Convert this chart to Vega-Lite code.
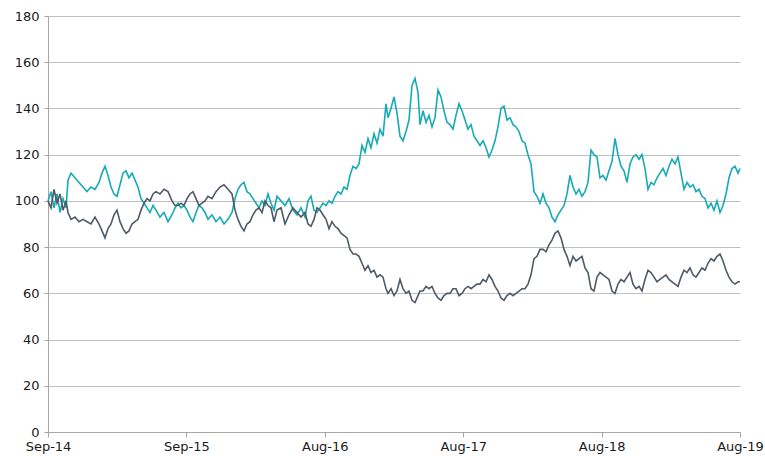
{
  "$schema": "https://vega.github.io/schema/vega-lite/v6.json",
  "width": 692,
  "height": 416,
  "autosize": "none",
  "padding": {"left": 48, "top": 16, "right": 25, "bottom": 24},
  "background": "white",
  "config": {"view": {"stroke": null}, "font": "DejaVu Sans"},
  "data": {"values": [
    {"t":0,"a":100,"b":100},{"t":3,"a":104,"b":97},{"t":6,"a":97,"b":105},{"t":9,"a":103,"b":99},{"t":12,"a":95,"b":103},{"t":15,"a":101,"b":96},{"t":18,"a":97,"b":100},{"t":20,"a":109,"b":95},{"t":23,"a":112,"b":92},{"t":27,"a":110,"b":93},{"t":31,"a":108,"b":91},{"t":35,"a":106,"b":92},{"t":39,"a":104,"b":91},{"t":43,"a":106,"b":90},{"t":47,"a":105,"b":93},{"t":51,"a":108,"b":90},{"t":54,"a":112,"b":87},{"t":57,"a":115,"b":84},{"t":60,"a":111,"b":88},{"t":63,"a":106,"b":90},{"t":66,"a":103,"b":94},{"t":69,"a":102,"b":96},{"t":72,"a":107,"b":91},{"t":75,"a":112,"b":88},{"t":78,"a":113,"b":86},{"t":81,"a":110,"b":87},{"t":84,"a":112,"b":90},{"t":87,"a":109,"b":91},{"t":90,"a":106,"b":92},{"t":93,"a":101,"b":96},{"t":96,"a":99,"b":99},{"t":99,"a":97,"b":101},{"t":102,"a":95,"b":100},{"t":105,"a":98,"b":103},{"t":108,"a":96,"b":104},{"t":112,"a":93,"b":103},{"t":116,"a":95,"b":105},{"t":120,"a":91,"b":104},{"t":124,"a":94,"b":100},{"t":127,"a":97,"b":98},{"t":130,"a":99,"b":98},{"t":133,"a":97,"b":99},{"t":136,"a":98,"b":98},{"t":139,"a":96,"b":101},{"t":142,"a":93,"b":103},{"t":145,"a":91,"b":104},{"t":148,"a":95,"b":101},{"t":151,"a":98,"b":98},{"t":154,"a":97,"b":99},{"t":157,"a":95,"b":100},{"t":160,"a":92,"b":102},{"t":164,"a":94,"b":101},{"t":168,"a":91,"b":104},{"t":172,"a":93,"b":106},{"t":176,"a":90,"b":107},{"t":180,"a":92,"b":105},{"t":184,"a":95,"b":103},{"t":187,"a":101,"b":96},{"t":190,"a":105,"b":92},{"t":193,"a":107,"b":89},{"t":196,"a":108,"b":87},{"t":199,"a":104,"b":90},{"t":202,"a":103,"b":91},{"t":205,"a":101,"b":94},{"t":208,"a":99,"b":96},{"t":211,"a":97,"b":97},{"t":214,"a":100,"b":95},{"t":217,"a":98,"b":100},{"t":220,"a":103,"b":98},{"t":223,"a":99,"b":97},{"t":226,"a":96,"b":91},{"t":229,"a":102,"b":96},{"t":233,"a":100,"b":97},{"t":237,"a":98,"b":90},{"t":241,"a":101,"b":94},{"t":245,"a":96,"b":97},{"t":249,"a":94,"b":95},{"t":253,"a":97,"b":93},{"t":257,"a":93,"b":95},{"t":260,"a":100,"b":90},{"t":263,"a":102,"b":89},{"t":266,"a":96,"b":92},{"t":269,"a":95,"b":97},{"t":272,"a":97,"b":96},{"t":275,"a":99,"b":94},{"t":278,"a":98,"b":92},{"t":281,"a":100,"b":88},{"t":284,"a":99,"b":91},{"t":287,"a":102,"b":89},{"t":290,"a":104,"b":88},{"t":293,"a":103,"b":86},{"t":296,"a":106,"b":85},{"t":299,"a":105,"b":84},{"t":302,"a":111,"b":79},{"t":305,"a":115,"b":77},{"t":308,"a":114,"b":77},{"t":311,"a":116,"b":76},{"t":314,"a":124,"b":73},{"t":317,"a":121,"b":70},{"t":320,"a":127,"b":72},{"t":323,"a":123,"b":69},{"t":326,"a":129,"b":70},{"t":329,"a":125,"b":67},{"t":332,"a":131,"b":68},{"t":335,"a":128,"b":67},{"t":338,"a":142,"b":62},{"t":340,"a":136,"b":60},{"t":343,"a":140,"b":62},{"t":346,"a":145,"b":59},{"t":349,"a":138,"b":61},{"t":352,"a":128,"b":66},{"t":355,"a":126,"b":62},{"t":358,"a":130,"b":60},{"t":361,"a":135,"b":61},{"t":364,"a":150,"b":57},{"t":367,"a":153,"b":56},{"t":370,"a":147,"b":59},{"t":372,"a":133,"b":61},{"t":375,"a":139,"b":61},{"t":378,"a":134,"b":63},{"t":381,"a":137,"b":62},{"t":384,"a":132,"b":63},{"t":387,"a":136,"b":60},{"t":390,"a":148,"b":58},{"t":393,"a":145,"b":57},{"t":396,"a":139,"b":59},{"t":399,"a":134,"b":60},{"t":402,"a":133,"b":60},{"t":405,"a":131,"b":62},{"t":408,"a":137,"b":62},{"t":411,"a":142,"b":59},{"t":414,"a":139,"b":60},{"t":417,"a":135,"b":62},{"t":420,"a":131,"b":63},{"t":423,"a":133,"b":62},{"t":426,"a":128,"b":63},{"t":429,"a":126,"b":64},{"t":432,"a":124,"b":64},{"t":435,"a":126,"b":66},{"t":438,"a":123,"b":65},{"t":441,"a":119,"b":68},{"t":444,"a":122,"b":66},{"t":447,"a":126,"b":63},{"t":450,"a":132,"b":61},{"t":453,"a":140,"b":58},{"t":456,"a":141,"b":57},{"t":459,"a":135,"b":59},{"t":462,"a":136,"b":60},{"t":465,"a":133,"b":59},{"t":468,"a":132,"b":60},{"t":471,"a":130,"b":61},{"t":474,"a":126,"b":62},{"t":477,"a":125,"b":62},{"t":480,"a":120,"b":64},{"t":483,"a":116,"b":68},{"t":486,"a":104,"b":75},{"t":489,"a":102,"b":76},{"t":492,"a":99,"b":79},{"t":495,"a":103,"b":79},{"t":498,"a":99,"b":78},{"t":501,"a":97,"b":81},{"t":504,"a":93,"b":83},{"t":507,"a":91,"b":86},{"t":510,"a":94,"b":87},{"t":513,"a":96,"b":84},{"t":516,"a":98,"b":79},{"t":519,"a":103,"b":76},{"t":522,"a":111,"b":72},{"t":525,"a":106,"b":76},{"t":528,"a":103,"b":74},{"t":531,"a":105,"b":75},{"t":534,"a":102,"b":76},{"t":537,"a":104,"b":71},{"t":540,"a":108,"b":69},{"t":543,"a":122,"b":62},{"t":546,"a":120,"b":61},{"t":549,"a":119,"b":67},{"t":552,"a":110,"b":69},{"t":555,"a":111,"b":68},{"t":558,"a":109,"b":67},{"t":561,"a":113,"b":66},{"t":564,"a":117,"b":61},{"t":567,"a":127,"b":60},{"t":570,"a":120,"b":64},{"t":573,"a":115,"b":66},{"t":576,"a":113,"b":65},{"t":579,"a":108,"b":67},{"t":582,"a":116,"b":69},{"t":585,"a":119,"b":64},{"t":588,"a":120,"b":62},{"t":591,"a":118,"b":63},{"t":594,"a":120,"b":61},{"t":597,"a":114,"b":66},{"t":600,"a":105,"b":70},{"t":603,"a":108,"b":69},{"t":606,"a":107,"b":67},{"t":609,"a":110,"b":65},{"t":612,"a":112,"b":66},{"t":615,"a":114,"b":67},{"t":618,"a":111,"b":68},{"t":621,"a":115,"b":66},{"t":624,"a":118,"b":65},{"t":627,"a":116,"b":64},{"t":630,"a":119,"b":63},{"t":633,"a":112,"b":67},{"t":636,"a":105,"b":70},{"t":639,"a":108,"b":69},{"t":642,"a":106,"b":71},{"t":645,"a":107,"b":68},{"t":648,"a":104,"b":67},{"t":651,"a":105,"b":69},{"t":654,"a":102,"b":71},{"t":657,"a":101,"b":70},{"t":660,"a":97,"b":73},{"t":663,"a":99,"b":75},{"t":666,"a":96,"b":74},{"t":669,"a":100,"b":76},{"t":672,"a":95,"b":77},{"t":675,"a":98,"b":74},{"t":678,"a":103,"b":70},{"t":681,"a":110,"b":67},{"t":684,"a":114,"b":65},{"t":687,"a":115,"b":64},{"t":690,"a":112,"b":65},{"t":692,"a":114,"b":65}
  ]},
  "transform": [{"fold": ["a", "b"], "as": ["series", "value"]}],
  "mark": {"type": "line", "strokeWidth": 1.6, "interpolate": "linear"},
  "encoding": {
    "x": {
      "field": "t", "type": "quantitative",
      "scale": {"domain": [0, 692], "nice": false, "zero": false},
      "axis": {
        "title": null, "grid": false,
        "values": [0, 138.4, 276.8, 415.2, 553.6, 692],
        "labelExpr": "['Sep-14','Sep-15','Aug-16','Aug-17','Aug-18','Aug-19'][round(datum.value/138.4)]",
        "labelFontSize": 13, "labelColor": "#1a1a1a", "labelFont": "DejaVu Sans",
        "domainColor": "#A6A6A6", "tickColor": "#A6A6A6", "tickSize": 5,
        "labelPadding": 3, "labelFlush": false, "labelOverlap": false
      }
    },
    "y": {
      "field": "value", "type": "quantitative",
      "scale": {"domain": [0, 180], "nice": false},
      "axis": {
        "title": null, "values": [0,20,40,60,80,100,120,140,160,180],
        "gridColor": "#BFBFBF", "gridWidth": 1,
        "labelFontSize": 13, "labelColor": "#1a1a1a", "labelFont": "DejaVu Sans",
        "domainColor": "#A6A6A6", "tickColor": "#A6A6A6", "tickSize": 4,
        "labelPadding": 5
      }
    },
    "color": {
      "field": "series", "type": "nominal",
      "scale": {"domain": ["a", "b"], "range": ["#16AAB4", "#4F5A67"]},
      "legend": null
    }
  }
}
